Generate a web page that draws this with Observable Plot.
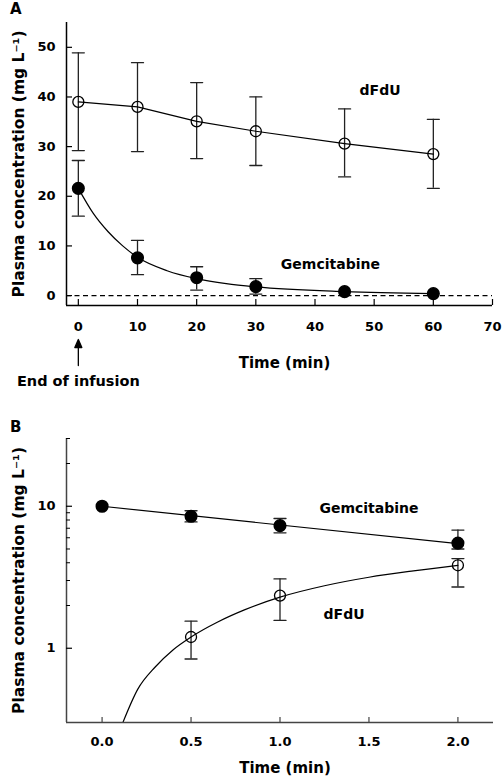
<!DOCTYPE html>
<html><head><meta charset="utf-8">
<script src="https://cdn.jsdelivr.net/npm/d3@7"></script>
<script src="https://cdn.jsdelivr.net/npm/@observablehq/plot@0.6"></script>
<style>
body{margin:0;background:#fff;font-family:"DejaVu Sans",sans-serif;}
#root{position:relative;width:502px;height:781px;overflow:hidden;}
.panel{position:absolute;left:0;}
.plabel{position:absolute;font:bold 15px "DejaVu Sans",sans-serif;color:#000;line-height:1;}
</style></head><body>
<div id="root">
<div id="a" class="panel" style="top:0"></div>
<div id="b" class="panel" style="top:400px"></div>
<div class="plabel" style="left:10px;top:2px">A</div>
<div class="plabel" style="left:10px;top:420px">B</div>
</div>
<script>
// ---------- Panel A data (linear, 0–60 min) ----------
const timeA = [0, 10, 20, 30, 45, 60];
const dfduA = [39.0, 38.0, 35.1, 33.1, 30.6, 28.5];
const dfduA_lo = [29.2, 29.0, 27.6, 26.2, 23.9, 21.6];
const dfduA_hi = [48.9, 46.9, 42.9, 40.0, 37.6, 35.5];
const gemA = [21.6, 7.6, 3.6, 1.8, 0.8, 0.4];
const gemA_lo = [16.0, 4.2, 1.1, 0.3, null, null];
const gemA_hi = [27.2, 11.1, 5.8, 3.4, null, null];
// fitted gemcitabine curve
const gemFitA_t = [0, 2.5, 5, 7.5, 10, 15, 20, 25, 30, 45, 60];
const gemFitA_c = [21.6, 16.6, 12.9, 10.0, 7.7, 5.0, 3.4, 2.4, 1.75, 0.8, 0.4];
const xTicksA = [0, 10, 20, 30, 40, 50, 60, 70];
const yTicksA = [0, 10, 20, 30, 40, 50];
const labelsA = [{text: "dFdU", t: 51, c: 41.3}, {text: "Gemcitabine", t: 42.6, c: 6.3}];
const infusion = [{t: 0, text: "End of infusion"}];

// ---------- Panel B data (log, 0–2 min) ----------
const timeB = [0, 0.5, 1.0, 2.0];
const gemB = [10.0, 8.5, 7.3, 5.5];
const gemB_lo = [null, 7.75, 6.5, 5.0];
const gemB_hi = [null, 9.3, 8.2, 6.8];
const gemFitB_t = [0, 2.0];
const gemFitB_c = [10.0, 5.45];
const timeB_d = [0.5, 1.0, 2.0];
const dfduB = [1.2, 2.35, 3.84];
const dfduB_lo = [0.84, 1.57, 2.7];
const dfduB_hi = [1.55, 3.08, 4.28];
const dfduFitB_t = [0.117, 0.2, 0.3, 0.4, 0.5, 0.65, 0.8, 1.0, 1.25, 1.5, 1.75, 2.0];
const dfduFitB_c = [0.3, 0.513, 0.741, 0.977, 1.2, 1.531, 1.862, 2.29, 2.754, 3.162, 3.508, 3.837];
const xTicksB = [0, 0.5, 1.0, 1.5, 2.0];
const yMajorB = [1, 10];
const yMinorB = [2, 3, 4, 5, 6, 7, 8, 9, 20, 30];
const labelsB = [{text: "Gemcitabine", t: 1.5, c: 9.7}, {text: "dFdU", t: 1.36, c: 1.73}];

// ---------- helpers ----------
const rows = (t, c) => t.map((x, i) => ({t: x, c: c[i]}));
const errRows = (t, lo, hi) => t.map((x, i) => ({t: x, lo: lo[i], hi: hi[i]})).filter(d => d.lo != null);
const capRows = (e) => e.flatMap(d => [{t: d.t, v: d.lo}, {t: d.t, v: d.hi}]);
const capShape = {draw(ctx, l) { ctx.moveTo(0, 0); ctx.lineTo(0, -l); }};
const arrowShape = {draw(ctx, l) {
  ctx.moveTo(0, 0); ctx.lineTo(0, -l + 6);
  ctx.moveTo(-3.5, -l + 8); ctx.lineTo(0, -l); ctx.lineTo(3.5, -l + 8); ctx.closePath();
}};
const FONT = '"DejaVu Sans", sans-serif';
const W = 502;
const YTITLE = "Plasma concentration (mg L⁻¹)";

// ---------- Panel A ----------
{
  const H = 395, mt = 22, mb = 90, ml = 66, mr = 10;
  const FH = H - mt - mb, FW = W - ml - mr;
  const xDom = [-2, 70], yDom = [-2, 55];
  const errA = [...errRows(timeA, dfduA_lo, dfduA_hi), ...errRows(timeA, gemA_lo, gemA_hi)];
  const chart = Plot.plot({
    width: W, height: H, marginTop: mt, marginBottom: mb, marginLeft: ml, marginRight: mr,
    style: {fontFamily: FONT, color: "#000", background: "white"},
    x: {domain: xDom}, y: {domain: yDom},
    marks: [
      Plot.ruleY([0], {stroke: "#000", strokeWidth: 1.2, strokeDasharray: "5,3.5"}),
      Plot.ruleX(errA, {x: "t", y1: "lo", y2: "hi", stroke: "#222", strokeWidth: 1.3}),
      Plot.vector(capRows(errA), {x: "t", y: "v", rotate: 90, length: 12, anchor: "middle", shape: capShape, stroke: "#222", strokeWidth: 1.3}),
      Plot.line(rows(timeA, dfduA), {x: "t", y: "c", stroke: "#000", strokeWidth: 1.2}),
      Plot.line(rows(gemFitA_t, gemFitA_c), {x: "t", y: "c", curve: "monotone-x", stroke: "#000", strokeWidth: 1.2}),
      Plot.dot(rows(timeA, dfduA), {x: "t", y: "c", r: 5.5, fill: "none", stroke: "#000", strokeWidth: 1.3}),
      Plot.dot(rows(timeA, gemA), {x: "t", y: "c", r: 5.8, fill: "#000", stroke: "#000"}),
      Plot.ruleX([xDom[0]], {stroke: "#000", strokeWidth: 1.5}),
      Plot.ruleY([yDom[0]], {stroke: "#000", strokeWidth: 1.5}),
      Plot.tickX(xTicksA, {x: d => d, insetTop: FH - 6, stroke: "#000", strokeWidth: 1.2}),
      Plot.tickY(yTicksA, {y: d => d, insetRight: FW - 6, stroke: "#000", strokeWidth: 1.2}),
      Plot.axisX(xTicksA, {tickSize: 0, tickPadding: 16, fontSize: 13, fontWeight: "bold", label: null}),
      Plot.axisY(yTicksA, {tickSize: 0, tickPadding: 11, fontSize: 13, fontWeight: "bold", label: null}),
      Plot.text(labelsA, {x: "t", y: "c", text: "text", fontSize: 14, fontWeight: "bold"}),
      Plot.text(["Time (min)"], {frameAnchor: "bottom", lineAnchor: "middle", dy: 58, dx: 5, fontSize: 15, fontWeight: "bold"}),
      Plot.text([YTITLE], {frameAnchor: "left", textAnchor: "middle", lineAnchor: "middle", dx: -47, rotate: -90, fontSize: 15.5, fontWeight: "bold"}),
      Plot.vector(infusion, {x: "t", frameAnchor: "bottom", dy: 60, length: 26, anchor: "start", rotate: 0, shape: arrowShape, stroke: "#000", fill: "#000", strokeWidth: 1.3}),
      Plot.text(infusion, {x: "t", text: "text", frameAnchor: "bottom", lineAnchor: "middle", dy: 76, fontSize: 14.5, fontWeight: "bold"})
    ]
  });
  document.getElementById("a").append(chart);
}

// ---------- Panel B ----------
{
  const H = 381, mt = 38, mb = 59, ml = 66, mr = 9;
  const FH = H - mt - mb, FW = W - ml - mr;
  const xDom = [-0.2, 2.2], yDom = [0.3, 30];
  const errB = [...errRows(timeB, gemB_lo, gemB_hi), ...errRows(timeB_d, dfduB_lo, dfduB_hi)];
  const chart = Plot.plot({
    width: W, height: H, marginTop: mt, marginBottom: mb, marginLeft: ml, marginRight: mr,
    style: {fontFamily: FONT, color: "#000", background: "white"},
    x: {domain: xDom}, y: {type: "log", domain: yDom},
    marks: [
      Plot.ruleX(errB, {x: "t", y1: "lo", y2: "hi", stroke: "#222", strokeWidth: 1.3}),
      Plot.vector(capRows(errB), {x: "t", y: "v", rotate: 90, length: 12, anchor: "middle", shape: capShape, stroke: "#222", strokeWidth: 1.3}),
      Plot.line(rows(gemFitB_t, gemFitB_c), {x: "t", y: "c", stroke: "#000", strokeWidth: 1.2}),
      Plot.line(rows(dfduFitB_t, dfduFitB_c), {x: "t", y: "c", curve: "monotone-x", stroke: "#000", strokeWidth: 1.2, clip: true}),
      Plot.dot(rows(timeB_d, dfduB), {x: "t", y: "c", r: 5.5, fill: "none", stroke: "#000", strokeWidth: 1.3}),
      Plot.dot(rows(timeB, gemB), {x: "t", y: "c", r: 5.8, fill: "#000", stroke: "#000"}),
      Plot.ruleX([xDom[0]], {stroke: "#444", strokeWidth: 1.5}),
      Plot.ruleY([yDom[0]], {stroke: "#444", strokeWidth: 1.5}),
      Plot.tickX(xTicksB, {x: d => d, insetTop: FH - 5, stroke: "#444", strokeWidth: 1.2}),
      Plot.tickY(yMajorB, {y: d => d, insetRight: FW - 6, stroke: "#000", strokeWidth: 1.2}),
      Plot.tickY(yMinorB, {y: d => d, insetRight: FW - 4, stroke: "#000", strokeWidth: 1}),
      Plot.axisX(xTicksB, {tickSize: 0, tickPadding: 14, fontSize: 13, fontWeight: "bold", tickFormat: d3.format(".1f"), label: null}),
      Plot.axisY(yMajorB, {tickSize: 0, tickPadding: 11, fontSize: 13, fontWeight: "bold", tickFormat: d => String(d), label: null}),
      Plot.text(labelsB, {x: "t", y: "c", text: "text", fontSize: 14, fontWeight: "bold"}),
      Plot.text(["Time (min)"], {frameAnchor: "bottom", lineAnchor: "middle", dy: 46, dx: 5, fontSize: 15, fontWeight: "bold"}),
      Plot.text([YTITLE], {frameAnchor: "left", textAnchor: "middle", lineAnchor: "middle", dx: -47, rotate: -90, fontSize: 15.5, fontWeight: "bold"})
    ]
  });
  document.getElementById("b").append(chart);
}
</script>
</body></html>
